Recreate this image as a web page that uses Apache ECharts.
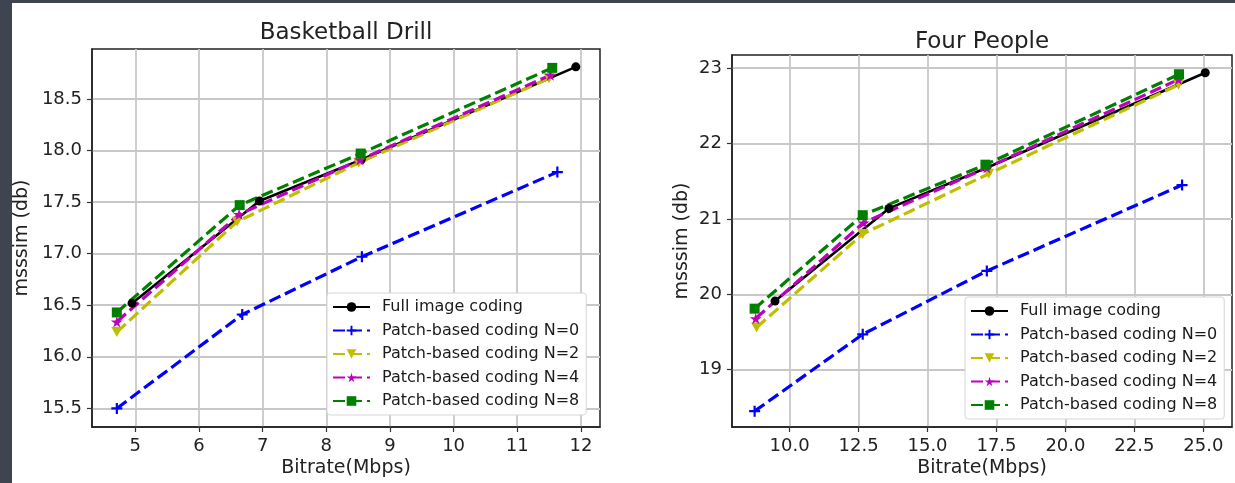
<!DOCTYPE html>
<html>
<head>
<meta charset="utf-8">
<script src="https://cdn.jsdelivr.net/npm/echarts@6/dist/echarts.min.js"></script>
<style>
  html, body { margin: 0; padding: 0; background: #3e4550; }
  #chart { position: absolute; left: 12px; top: 3px; width: 1223px; height: 480px; background: #fff; }
</style>
</head>
<body>
<div id="chart"></div>
<script>
// series names
var names = ['Full image coding', 'Patch-based coding N=0', 'Patch-based coding N=2',
             'Patch-based coding N=4', 'Patch-based coding N=8'];

// Basketball Drill
var bdFullX = [4.95, 6.95, 8.55, 11.92];
var bdFullY = [16.52, 17.51, 17.91, 18.81];
var bdN0X = [4.71, 6.68, 8.56, 11.63];
var bdN0Y = [15.50, 16.41, 16.97, 17.79];
var bdN2X = [4.71, 6.60, 8.51, 11.50];
var bdN2Y = [16.24, 17.31, 17.88, 18.70];
var bdN4X = [4.71, 6.63, 8.53, 11.52];
var bdN4Y = [16.34, 17.38, 17.91, 18.73];
var bdN8X = [4.71, 6.64, 8.54, 11.55];
var bdN8Y = [16.43, 17.47, 17.97, 18.80];

// Four People
var fpFullX = [9.47, 13.60, 17.15, 25.07];
var fpFullY = [19.91, 21.14, 21.68, 22.94];
var fpN0X = [8.73, 12.65, 17.15, 24.23];
var fpN0Y = [18.45, 19.47, 20.31, 21.45];
var fpN2X = [8.80, 12.65, 17.22, 24.10];
var fpN2Y = [19.56, 20.80, 21.60, 22.78];
var fpN4X = [8.77, 12.68, 17.15, 24.10];
var fpN4Y = [19.68, 20.95, 21.68, 22.85];
var fpN8X = [8.73, 12.65, 17.10, 24.12];
var fpN8Y = [19.81, 21.05, 21.72, 22.92];

// tick values
var bdXTicks = [5, 6, 7, 8, 9, 10, 11, 12];
var bdYTicks = [15.5, 16.0, 16.5, 17.0, 17.5, 18.0, 18.5];
var fpXTicks = [10.0, 12.5, 15.0, 17.5, 20.0, 22.5, 25.0];
var fpYTicks = [19, 20, 21, 22, 23];

var FONT = 'DejaVu Sans';
var colors = ['#000000', '#0000ff', '#bfbf00', '#bf00bf', '#008000'];
var symbols = [
  'circle',
  'path://M4,0H6V4H10V6H6V10H4V6H0V4H4Z',
  'path://M0,0L10,0L5,9Z',
  'path://M50,0L61,35H98L68,57L79,91L50,70L21,91L32,57L2,35H39Z',
  'rect'
];
var symSizes = [9, 11, 11, 12, 10];

function zip(xs, ys) {
  var out = [];
  for (var i = 0; i < xs.length; i++) out.push([xs[i], ys[i]]);
  return out;
}

function makeSeries(idx, lists) {
  var res = [];
  for (var i = 0; i < lists.length; i++) {
    res.push({
      name: names[i],
      type: 'line',
      xAxisIndex: idx,
      yAxisIndex: idx,
      data: zip(lists[i][0], lists[i][1]),
      symbol: symbols[i],
      symbolSize: symSizes[i],
      symbolKeepAspect: true,
      showAllSymbol: true,
      animation: false,
      lineStyle: { color: colors[i], width: i === 0 ? 2.6 : 3.2, type: i === 0 ? 'solid' : [12, 5] },
      itemStyle: { color: colors[i] }
    });
  }
  return res;
}

function valueAxis(gridIndex, min, max, ticks, fmt, extra) {
  var ax = {
    type: 'value',
    gridIndex: gridIndex,
    min: min,
    max: max,
    axisLine: { show: true, onZero: false, lineStyle: { color: '#222', width: 1.5 } },
    axisTick: { show: true, inside: false, length: 5, customValues: ticks, lineStyle: { color: '#333', width: 1.2 } },
    axisLabel: { customValues: ticks, color: '#222', fontFamily: FONT, fontSize: 18, margin: 10,
                 formatter: function (v) { return fmt(v); } },
    splitLine: { show: true, lineStyle: { color: '#c8c8c8', width: 1.8 } },
    nameLocation: 'middle',
    nameMoveOverlap: false,
    nameTextStyle: { color: '#222', fontFamily: FONT, fontSize: 19 }
  };
  for (var k in extra) ax[k] = extra[k];
  return ax;
}

function legendCfg(left, top) {
  return {
    orient: 'vertical',
    left: left,
    top: top,
    data: names,
    itemWidth: 37,
    itemHeight: 12,
    itemGap: 7.5,
    padding: [6, 7, 6, 5],
    backgroundColor: '#fff',
    borderColor: '#d6d6d6',
    borderWidth: 1,
    borderRadius: 3,
    textStyle: { color: '#1a1a1a', fontFamily: FONT, fontSize: 16, padding: [0, 0, 0, 7] }
  };
}

var chart = echarts.init(document.getElementById('chart'));

var option = {
  animation: false,
  grid: [
    { left: 80, top: 46, width: 508, height: 379, show: true, borderColor: '#222', borderWidth: 1.5, backgroundColor: 'transparent' },
    { left: 720, top: 52, width: 500, height: 373, show: true, borderColor: '#222', borderWidth: 1.5, backgroundColor: 'transparent' }
  ],
  xAxis: [
    valueAxis(0, 4.32, 12.30, bdXTicks, function (v) { return String(v); },
              { name: 'Bitrate(Mbps)', nameGap: 32 }),
    valueAxis(1, 7.91, 26.04, fpXTicks, function (v) { return v.toFixed(1); },
              { name: 'Bitrate(Mbps)', nameGap: 32 })
  ],
  yAxis: [
    valueAxis(0, 15.32, 18.983, bdYTicks, function (v) { return v.toFixed(1); },
              { name: 'msssim (db)', nameGap: 60 }),
    valueAxis(1, 18.24, 23.175, fpYTicks, function (v) { return String(v); },
              { name: 'msssim (db)', nameGap: 40 })
  ],
  legend: [legendCfg(315, 290), legendCfg(953, 294)],
  graphic: [
    { type: 'text', x: 334, y: 30, style: { text: 'Basketball Drill', fontFamily: FONT, fontSize: 23, fill: '#222', textAlign: 'center', textVerticalAlign: 'middle' } },
    { type: 'text', x: 970, y: 39, style: { text: 'Four People', fontFamily: FONT, fontSize: 23, fill: '#222', textAlign: 'center', textVerticalAlign: 'middle' } }
  ],
  series: makeSeries(0, [[bdFullX, bdFullY], [bdN0X, bdN0Y], [bdN2X, bdN2Y], [bdN4X, bdN4Y], [bdN8X, bdN8Y]])
    .concat(makeSeries(1, [[fpFullX, fpFullY], [fpN0X, fpN0Y], [fpN2X, fpN2Y], [fpN4X, fpN4Y], [fpN8X, fpN8Y]]))
};

chart.setOption(option);
</script>
</body>
</html>
